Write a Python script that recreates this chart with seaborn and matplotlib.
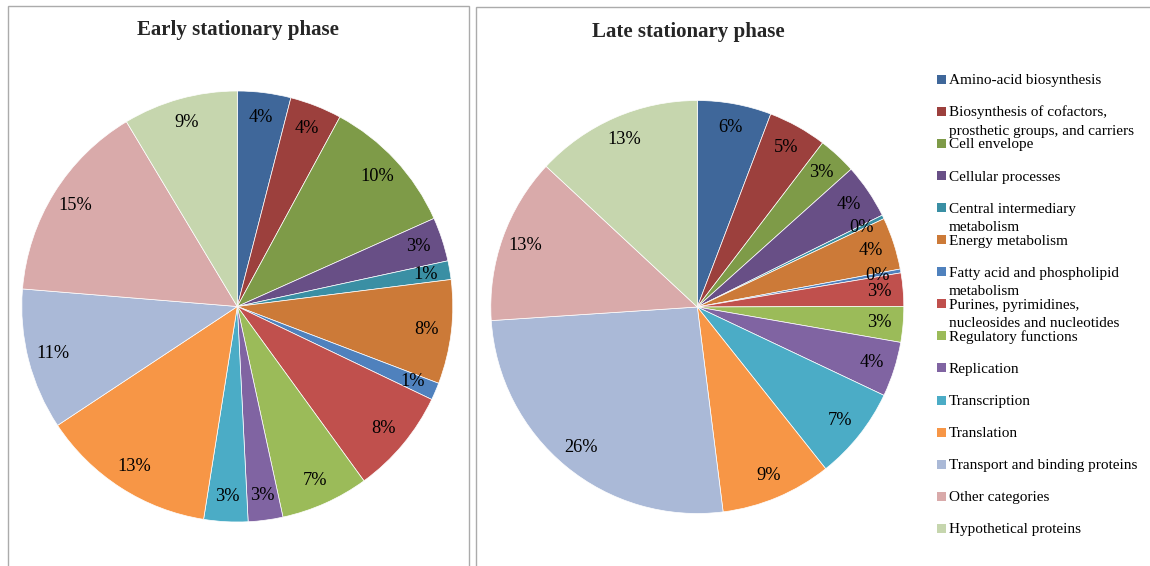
import matplotlib
matplotlib.use('Agg')
import matplotlib.pyplot as plt
from matplotlib.patches import Rectangle
import seaborn as sns

categories = [
    "Amino-acid biosynthesis",
    "Biosynthesis of cofactors,\nprosthetic groups, and carriers",
    "Cell envelope",
    "Cellular processes",
    "Central intermediary\nmetabolism",
    "Energy metabolism",
    "Fatty acid and phospholipid\nmetabolism",
    "Purines, pyrimidines,\nnucleosides and nucleotides",
    "Regulatory functions",
    "Replication",
    "Transcription",
    "Translation",
    "Transport and binding proteins",
    "Other categories",
    "Hypothetical proteins",
]

early = [4.0, 3.9, 10.4, 3.3, 1.4, 7.8, 1.3, 7.9, 6.6, 2.6, 3.3, 13.2, 10.6, 15.1, 8.6]
late = [5.8, 4.6, 3.0, 4.3, 0.3, 4.1, 0.3, 2.6, 2.8, 4.3, 7.3, 8.7, 26.0, 13.0, 13.1]

titles = ["Early stationary phase", "Late stationary phase"]

colors = sns.color_palette([
    "#3F679A", "#9C403D", "#7E9B48", "#684F86", "#3A8FA4", "#CC7A38",
    "#4F81BD", "#C0504D", "#9BBB59", "#8064A2", "#4BACC6", "#F79646",
    "#AAB9D7", "#D9AAAA", "#C6D6AE",
])

sns.set_theme(style="white")
plt.rcParams['font.family'] = ['Liberation Serif', 'DejaVu Serif']

W, H = 1150, 566
fig = plt.figure(figsize=(W / 100, H / 100), dpi=100)
fig.patch.set_facecolor("white")


def fx(x):
    return x / W


def fy(y):
    return 1 - y / H


# panel borders
border = "#ABABAB"
fig.add_artist(Rectangle((fx(8), fy(620)), fx(468.5) - fx(8), fy(6.5) - fy(620),
                         transform=fig.transFigure, fill=False, edgecolor=border,
                         linewidth=1.0, clip_on=False))
fig.add_artist(Rectangle((fx(476), fy(620)), fx(1300) - fx(476), fy(7) - fy(620),
                         transform=fig.transFigure, fill=False, edgecolor=border,
                         linewidth=1.0, clip_on=False))

# pie axes: (center x, center y, radius) in pixels
pies = [(237.3, 306.5, 215.5, early), (697.3, 307.0, 206.5, late)]
for (cx, cy, r, vals), title in zip(pies, titles):
    ax = fig.add_axes([fx(cx - r), fy(cy + r), 2 * r / W, 2 * r / H])
    wedges, texts, autotexts = ax.pie(
        vals, colors=colors, startangle=90, counterclock=False,
        autopct='%1.0f%%', pctdistance=0.885, radius=1,
        wedgeprops=dict(edgecolor="white", linewidth=0.5),
        textprops=dict(fontsize=13.2, color="black"),
    )
    ax.set_xlim(-1, 1)
    ax.set_ylim(-1, 1)
    ax.set_aspect("auto")
    ax.axis("off")

fig.text(fx(237.5), fy(30), titles[0], ha="center", va="center",
         fontsize=15, fontweight="bold")
fig.text(fx(688), fy(32), titles[1], ha="center", va="center",
         fontsize=15, fontweight="bold")

# legend (Excel style: fixed row spacing, wrapped labels)
y0 = 79.3
step = 32.07
for i, (lab, c) in enumerate(zip(categories, colors)):
    yc = y0 + i * step
    fig.add_artist(Rectangle((fx(937), fy(yc + 4.5)), 9 / W, 9 / H,
                             transform=fig.transFigure, facecolor=c,
                             edgecolor="none"))
    for k, line in enumerate(lab.split("\n")):
        fig.text(fx(949), fy(yc + 5 + k * 18.3), line, ha="left",
                 va="baseline", fontsize=11, color="black")

fig.savefig("out.png", dpi=100)
